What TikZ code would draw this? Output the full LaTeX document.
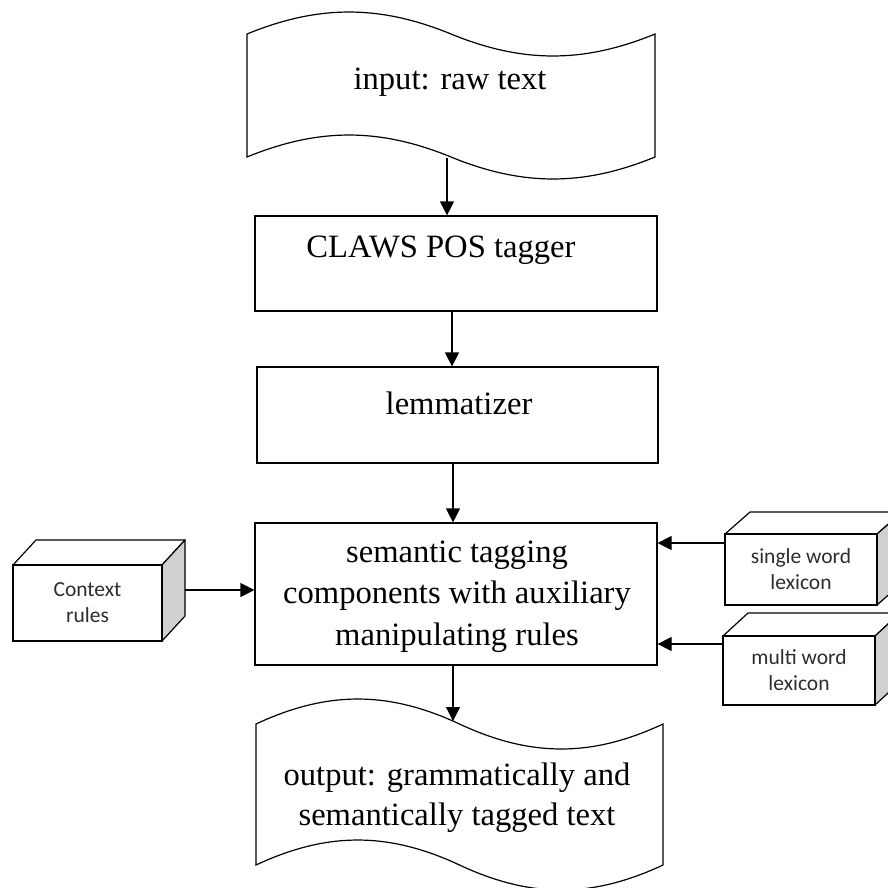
\documentclass[tikz,border=0pt]{standalone}
\usepackage{fontspec}
\setmainfont{Liberation Serif}
\newfontfamily\calib{Carlito}
\usetikzlibrary{arrows.meta}
\definecolor{sidegray}{RGB}{208,208,208}
\definecolor{labtext}{RGB}{45,45,45}
\tikzset{
  shapeline/.style={draw=black, line width=1.2pt, fill=white},
  boxnode/.style={shapeline, rectangle, inner sep=0pt},
  sertext/.style={align=center, inner sep=0pt, text=black, font=\fontsize{32.6}{41.5}\selectfont},
  santext/.style={align=center, inner sep=0pt, text=labtext, font=\calib\fontsize{21.5}{26}\selectfont},
  frontface/.style={shapeline, rectangle, inner sep=0pt, santext},
  sideface/.style={draw=black, line width=1.2pt, fill=sidegray, line join=round},
  topface/.style={draw=black, line width=1.2pt, fill=white, line join=round},
  arr/.style={draw=black, line width=1.2pt, -{Triangle[length=14pt,width=14pt]}}
}
\begin{document}
\begin{tikzpicture}[x=1pt,y=-1pt]
\useasboundingbox (0,0) rectangle (888,887);
\clip (0,0) rectangle (888,887);
\fill[white] (0,0) rectangle (888,887);

% input tape shape
\draw[shapeline] (247,34) .. controls (318.4,4.7) and (379.6,4.7) .. (451,34)
  .. controls (522.4,63.3) and (583.6,63.3) .. (655,34) -- (655,157)
  .. controls (583.6,186.3) and (522.4,186.3) .. (451,157)
  .. controls (379.6,127.7) and (318.4,127.7) .. (247,157) -- cycle;
\node[sertext] (input) at (450,82) {input: raw text};
\coordinate (inbot) at (447,158);

% CLAWS box
\node[boxnode, minimum width=402pt, minimum height=95pt] (claws) at (456,263.5) {};
\node[sertext] (clawst) at (441,250) {CLAWS POS tagger};

% lemmatizer box
\node[boxnode, minimum width=401pt, minimum height=96pt] (lem) at (457.5,415) {};
\node[sertext] (lemt) at (459,403) {lemmatizer};

% semantic box
\node[boxnode, minimum width=402pt, minimum height=142pt] (sem) at (456,594) {};
\node[sertext] (semt) at (457,596.5) {semantic tagging\\components with auxiliary\\manipulating rules};

% output tape shape
\draw[shapeline] (256,724) .. controls (327.2,690.7) and (388.3,690.7) .. (459.5,724)
  .. controls (530.7,757.3) and (591.8,757.3) .. (663,724) -- (663,865)
  .. controls (591.8,898.3) and (530.7,898.3) .. (459.5,865)
  .. controls (388.3,831.7) and (327.2,831.7) .. (256,865) -- cycle;
\node[sertext, font=\fontsize{32.6}{40}\selectfont] (output) at (457,798) {output: grammatically and\\semantically tagged text};
\coordinate (outtop) at (453,721);

% Context rules cube
\draw[topface] (13,565) -- (36,540) -- (185,540) -- (162,565) -- cycle;
\draw[sideface] (162,565) -- (185,540) -- (185,616) -- (162,641) -- cycle;
\node[frontface, minimum width=149pt, minimum height=76pt] (ctx) at (87.5,603) {Context\\rules};
\coordinate (ctxout) at (185,590);

% single word lexicon cube
\draw[topface] (725,534) -- (750,512) -- (902,512) -- (877,534) -- cycle;
\draw[sideface] (877,534) -- (902,512) -- (902,583) -- (877,605) -- cycle;
\node[frontface, minimum width=152pt, minimum height=71pt] (swl) at (801,569.5) {single word\\lexicon};
\coordinate (swlin) at (725,543);

% multi word lexicon cube
\draw[topface] (723,636) -- (748,613) -- (900,613) -- (875,636) -- cycle;
\draw[sideface] (875,636) -- (900,613) -- (900,682) -- (875,705) -- cycle;
\node[frontface, minimum width=152pt, minimum height=69pt] (mwl) at (799,670.5) {multi word\\lexicon};
\coordinate (mwlin) at (723,644);

% connectors
\draw[arr] (inbot) -- (inbot |- claws.north);
\draw[arr] ([xshift=-4pt]claws.south) -- ([xshift=-4pt]claws.south |- lem.north);
\draw[arr] ([xshift=-4.5pt]lem.south) -- ([xshift=-4.5pt]lem.south |- sem.north);
\draw[arr] (sem.south -| outtop) -- (outtop);
\draw[arr] (ctxout) -- (ctxout -| sem.west);
\draw[arr] (swlin) -- (swlin -| sem.east);
\draw[arr] (mwlin) -- (mwlin -| sem.east);
\end{tikzpicture}
\end{document}
